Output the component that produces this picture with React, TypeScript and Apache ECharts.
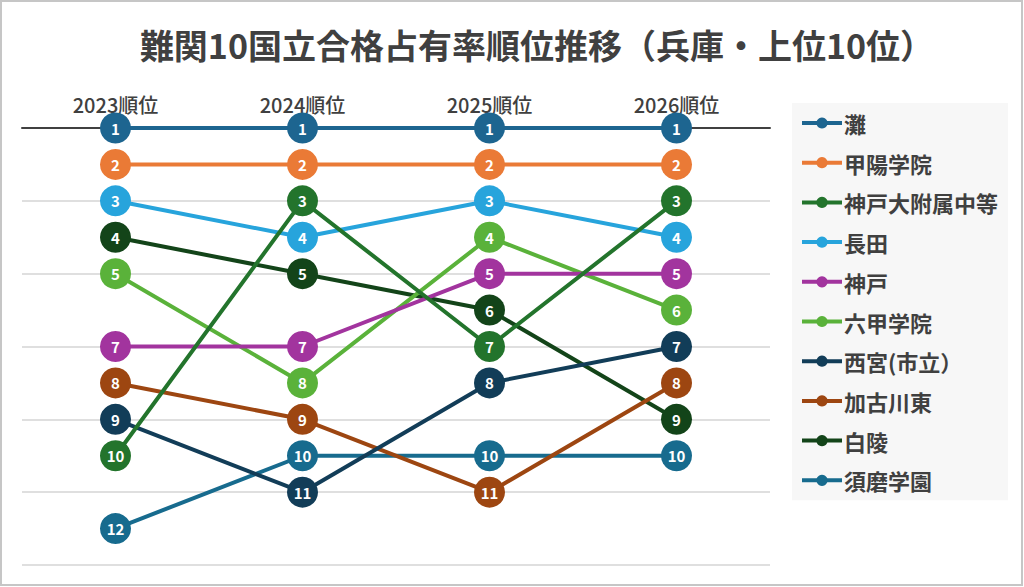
import React, { useEffect, useRef } from "react";
import * as echarts from "echarts";

const years = ["2023順位", "2024順位", "2025順位", "2026順位"];
const schools = ["灘", "甲陽学院", "神戸大附属中等", "長田", "神戸", "六甲学院", "西宮(市立)", "加古川東", "白陵", "須磨学園"];
const legendNames = ["灘", "甲陽学院", "神戸大附属中等", "長田", "神戸", "六甲学院", "西宮(市立）", "加古川東", "白陵", "須磨学園"];
const nada = [1, 1, 1, 1];
const koyo = [2, 2, 2, 2];
const kobeFuzoku = [10, 3, 7, 3];
const nagata = [3, 4, 3, 4];
const kobe = [7, 7, 5, 5];
const rokko = [5, 8, 4, 6];
const nishinomiya = [9, 11, 8, 7];
const kakogawaHigashi = [8, 9, 11, 8];
const hakuryo = [4, 5, 6, 9];
const suma = [12, 10, 10, 10];
const rankValues = [nada, koyo, kobeFuzoku, nagata, kobe, rokko, nishinomiya, kakogawaHigashi, hakuryo, suma];
const colors = ["#1d6590", "#ea7a36", "#23742c", "#27a4dc", "#a2349e", "#5ab23a", "#123d58", "#9d4611", "#134419", "#176b8e"];

const FONT = '"Noto Sans CJK JP", "Noto Sans", sans-serif';

export default function App() {
  const ref = useRef<HTMLDivElement>(null);
  useEffect(() => {
    document.body.style.margin = "0";
    if (!ref.current) return;
    const chart = echarts.init(ref.current, undefined, { renderer: "svg" });
    chart.setOption({
      animation: false,
      backgroundColor: "#ffffff",
      title: {
        text: "難関10国立合格占有率順位推移（兵庫・上位10位）",
        left: 532,
        top: 22,
        textAlign: "center",
        textStyle: { fontFamily: FONT, fontSize: 34, fontWeight: "bold", color: "#404040" },
      },
      graphic: [
        {
          type: "rect",
          shape: { x: 1, y: 1, width: 1021, height: 584 },
          style: { fill: "none", stroke: "#c6c6c6", lineWidth: 2 },
          silent: true,
        },
      ],
      legend: {
        orient: "vertical",
        left: 792,
        top: 103,
        padding: [9, 10, 9, 8],
        backgroundColor: "#f7f7f7",
        itemWidth: 40,
        itemHeight: 14,
        itemGap: 17.7,
        data: schools,
        formatter: (name: string) => legendNames[schools.indexOf(name)],
        lineStyle: { width: 4 },
        textStyle: { fontFamily: FONT, fontSize: 22, fontWeight: "bold", color: "#404040", lineHeight: 20, padding: [0, 0, 0, -3] },
      },
      grid: { left: 22, right: 254, top: 128, bottom: 22 },
      xAxis: {
        type: "category",
        data: years,
        position: "top",
        boundaryGap: true,
        axisLine: { onZero: false, lineStyle: { color: "#404040", width: 2 } },
        axisTick: { show: false },
        axisLabel: { margin: 14, fontFamily: FONT, fontSize: 20, fontWeight: "500", color: "#404040" },
        splitLine: { show: false },
      },
      yAxis: {
        type: "value",
        inverse: true,
        min: 1,
        max: 13,
        interval: 2,
        axisLine: { show: false },
        axisTick: { show: false },
        axisLabel: { show: false },
        splitLine: { lineStyle: { color: "#d4d4d4", width: 1.5 } },
      },
      series: schools.map((name, i) => ({
        name,
        type: "line",
        data: rankValues[i],
        symbol: "circle",
        symbolSize: 31,
        itemStyle: { color: colors[i] },
        lineStyle: { color: colors[i], width: 4 },
        label: {
          show: true,
          position: "inside",
          color: "#ffffff",
          fontFamily: FONT,
          fontSize: 15,
          fontWeight: "bold",
        },
        z: 2 + (schools.length - i),
      })),
    });
    return () => chart.dispose();
  }, []);
  return <div ref={ref} style={{ width: 1024, height: 587 }} />;
}
